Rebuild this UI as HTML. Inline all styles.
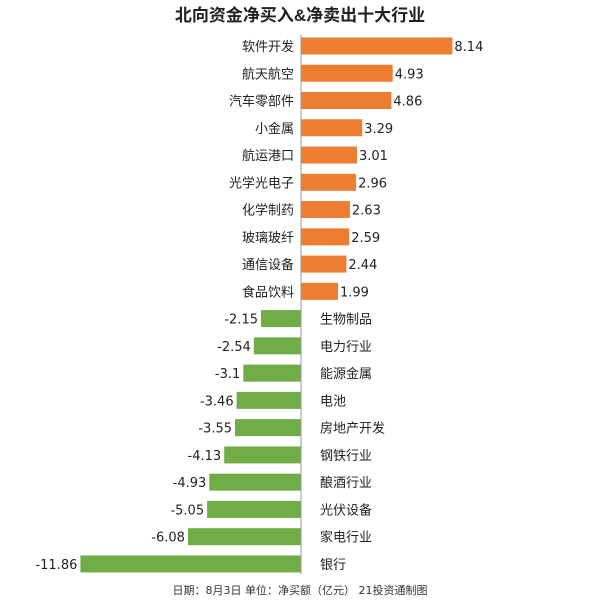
<!DOCTYPE html>
<html><head><meta charset="utf-8"><style>html,body{margin:0;padding:0;background:#fff}</style></head>
<body>
<svg width="600" height="600" xmlns="http://www.w3.org/2000/svg" font-family="'DejaVu Sans','Noto Sans CJK SC',sans-serif">
<text x="300" y="21" text-anchor="middle" font-size="17" font-weight="bold" fill="#222" font-family="'Liberation Sans','Noto Sans CJK SC',sans-serif">北向资金净买入&amp;净卖出十大行业</text>
<g font-size="13" fill="#222">
<g fill="#ED7D31">
<rect x="301" y="37.5" width="151.4" height="17"/>
<rect x="301" y="64.76" width="91.7" height="17"/>
<rect x="301" y="92.02" width="90.4" height="17"/>
<rect x="301" y="119.28" width="61.2" height="17"/>
<rect x="301" y="146.54" width="56.0" height="17"/>
<rect x="301" y="173.8" width="55.1" height="17"/>
<rect x="301" y="201.06" width="48.9" height="17"/>
<rect x="301" y="228.32" width="48.2" height="17"/>
<rect x="301" y="255.58" width="45.4" height="17"/>
<rect x="301" y="282.84" width="37.0" height="17"/>
</g>
<g fill="#70AD47">
<rect x="261.0" y="310.1" width="40.0" height="17"/>
<rect x="253.8" y="337.36" width="47.2" height="17"/>
<rect x="243.3" y="364.62" width="57.7" height="17"/>
<rect x="236.6" y="391.88" width="64.4" height="17"/>
<rect x="235.0" y="419.14" width="66.0" height="17"/>
<rect x="224.2" y="446.4" width="76.8" height="17"/>
<rect x="209.3" y="473.66" width="91.7" height="17"/>
<rect x="207.1" y="500.92" width="93.9" height="17"/>
<rect x="187.9" y="528.18" width="113.1" height="17"/>
<rect x="80.4" y="555.44" width="220.6" height="17"/>
</g>
<g text-anchor="end">
<text x="294" y="51">软件开发</text>
<text x="294" y="78.26">航天航空</text>
<text x="294" y="105.52">汽车零部件</text>
<text x="294" y="132.78">小金属</text>
<text x="294" y="160.04">航运港口</text>
<text x="294" y="187.3">光学光电子</text>
<text x="294" y="214.56">化学制药</text>
<text x="294" y="241.82">玻璃玻纤</text>
<text x="294" y="269.08">通信设备</text>
<text x="294" y="296.34">食品饮料</text>
<text x="258" y="323.6">-2.15</text>
<text x="250.8" y="350.86">-2.54</text>
<text x="240.3" y="378.12">-3.1</text>
<text x="233.6" y="405.38">-3.46</text>
<text x="232" y="432.64">-3.55</text>
<text x="221.2" y="459.9">-4.13</text>
<text x="206.3" y="487.16">-4.93</text>
<text x="204.1" y="514.42">-5.05</text>
<text x="184.9" y="541.68">-6.08</text>
<text x="77.4" y="568.94">-11.86</text>
</g>
<text x="454.4" y="51">8.14</text>
<text x="394.7" y="78.26">4.93</text>
<text x="393.4" y="105.52">4.86</text>
<text x="364.2" y="132.78">3.29</text>
<text x="359" y="160.04">3.01</text>
<text x="358.1" y="187.3">2.96</text>
<text x="351.9" y="214.56">2.63</text>
<text x="351.2" y="241.82">2.59</text>
<text x="348.4" y="269.08">2.44</text>
<text x="340" y="296.34">1.99</text>
<text x="320" y="323.6">生物制品</text>
<text x="320" y="350.86">电力行业</text>
<text x="320" y="378.12">能源金属</text>
<text x="320" y="405.38">电池</text>
<text x="320" y="432.64">房地产开发</text>
<text x="320" y="459.9">钢铁行业</text>
<text x="320" y="487.16">酿酒行业</text>
<text x="320" y="514.42">光伏设备</text>
<text x="320" y="541.68">家电行业</text>
<text x="320" y="568.94">银行</text>
</g>
<line x1="301" y1="35" x2="301" y2="574" stroke="#999" stroke-width="1"/>
<text x="300" y="594" text-anchor="middle" font-size="11" fill="#333">日期：8月3日 单位：净买额（亿元） 21投资通制图</text>
</svg>
</body></html>
